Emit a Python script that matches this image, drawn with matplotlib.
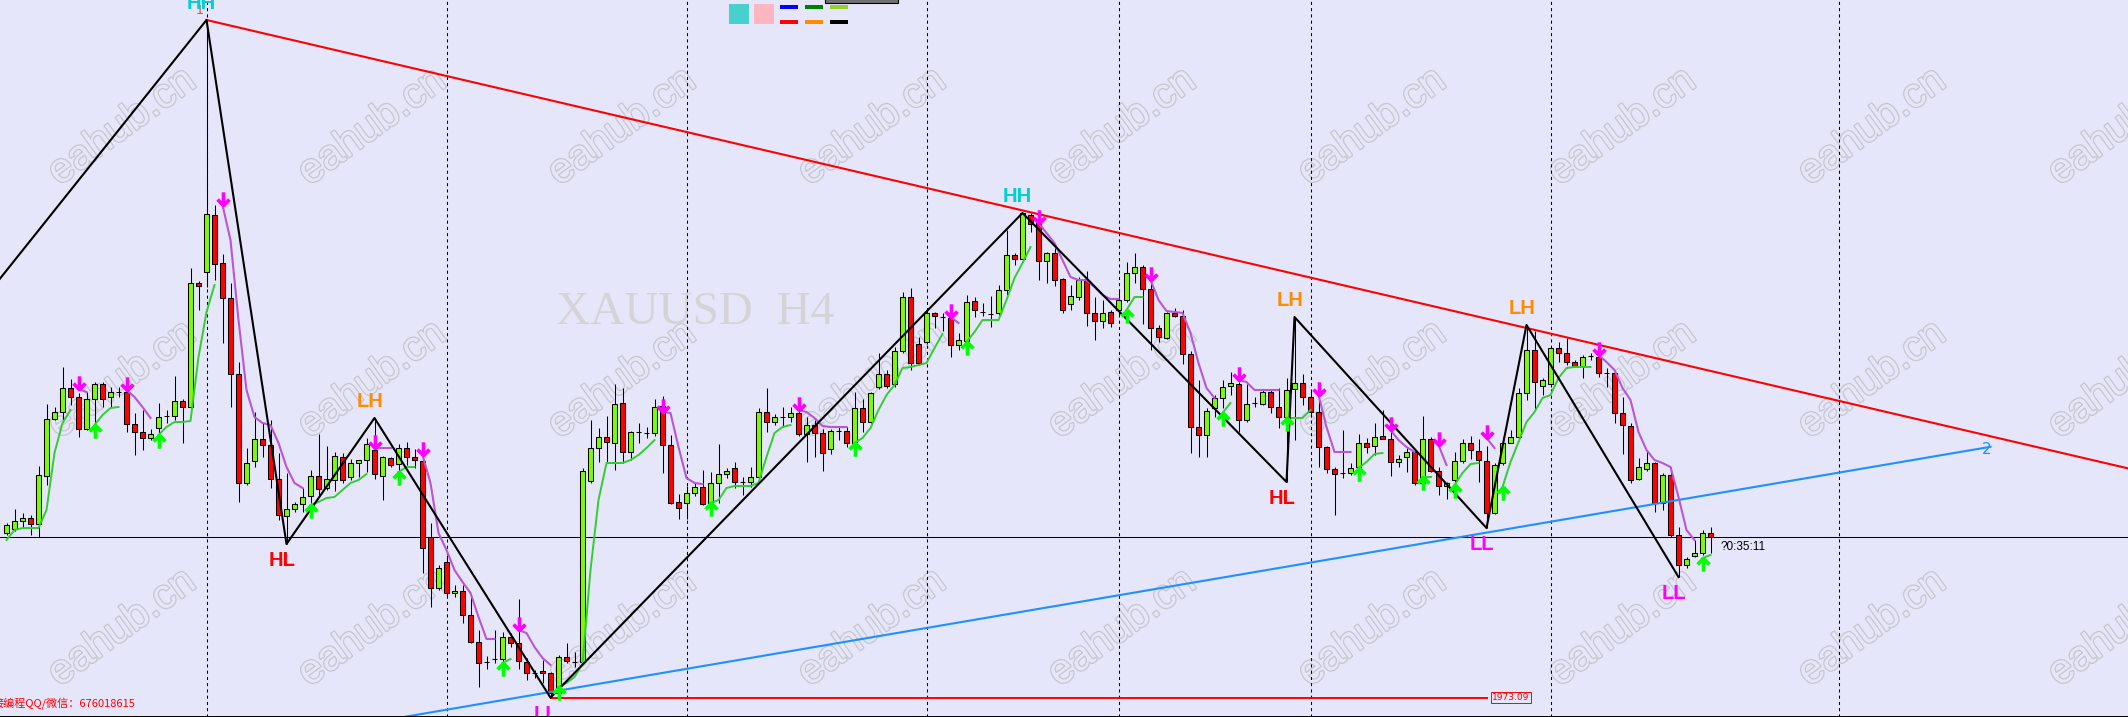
import numpy as np
import matplotlib
matplotlib.use('Agg')
import matplotlib.pyplot as plt
from matplotlib.path import Path
from matplotlib.patches import Rectangle
import matplotlib.patheffects as pe

# XAUUSD H4 candles (oldest first)
opens = [2014.25, 2015.25, 2017.25, 2018.0, 2016.5, 2028.5, 2042.75, 2044.5, 2050.5, 2048.25,
         2040.25, 2047.75, 2051.5, 2048.25, 2049.5, 2049.5, 2041.5, 2039.5, 2038.0, 2040.5,
         2043.5, 2043.5, 2047.25, 2045.75, 2076.75, 2079.5, 2093.75, 2081.75, 2073.0, 2054.0,
         2026.75, 2032.25, 2037.75, 2036.25, 2027.75, 2018.5, 2020.25, 2021.5, 2023.5, 2028.5,
         2025.5, 2027.5, 2033.25, 2028.25, 2031.75, 2032.5, 2035.0, 2028.5, 2033.0, 2031.5,
         2035.5, 2033.25, 2032.25, 2013.25, 2000.5, 2007.0, 1999.25, 1999.75, 1993.75, 1987.0,
         1982.0, 1982.75, 1982.75, 1988.25, 1986.75, 1982.0, 1979.25, 1979.75, 1979.25, 1974.25,
         1983.25, 1982.0, 1982.0, 2027.25, 2035.5, 2038.25, 2036.75, 2046.75, 2034.5, 2039.5,
         2039.25, 2039.25, 2046.0, 2036.25, 2022.0, 2021.75, 2024.25, 2025.75, 2021.75, 2026.75,
         2029.0, 2030.5, 2027.0, 2027.0, 2028.25, 2044.5, 2042.0, 2043.25, 2043.25, 2044.25,
         2039.0, 2041.25, 2039.25, 2035.25, 2039.75, 2039.75, 2036.75, 2045.5, 2042.0, 2050.75,
         2054.0, 2051.5, 2059.75, 2073.25, 2061.5, 2062.0, 2069.25, 2068.25, 2068.0, 2061.25,
         2062.25, 2072.25, 2069.5, 2069.0, 2069.25, 2075.0, 2083.75, 2082.75, 2093.75, 2092.0,
         2082.25, 2084.25, 2077.75, 2071.5, 2073.25, 2077.5, 2069.25, 2067.25, 2069.5, 2070.0,
         2072.5, 2079.25, 2080.75, 2075.25, 2065.5, 2063.0, 2069.25, 2068.5, 2059.0, 2040.75,
         2038.75, 2045.5, 2048.0, 2051.0, 2051.5, 2042.5, 2046.75, 2046.5, 2049.5, 2045.75,
         2043.25, 2050.25, 2051.75, 2048.25, 2044.5, 2035.75, 2030.25, 2029.25, 2029.25, 2030.75,
         2036.75, 2036.0, 2038.5, 2037.75, 2032.0, 2033.25, 2034.5, 2026.75, 2037.75, 2029.75,
         2026.0, 2027.5, 2032.25, 2036.75, 2034.75, 2032.25, 2019.25, 2031.75, 2036.75, 2038.25,
         2049.25, 2060.0, 2051.0, 2051.5, 2060.5, 2059.25, 2057.0, 2056.0, 2058.5, 2058.25,
         2054.25, 2054.25, 2044.25, 2041.0, 2027.75, 2030.25, 2031.75, 2021.75, 2028.75, 2013.75,
         2006.25, 2008.5, 2009.25, 2014.25]
highs = [2016.75, 2020.25, 2019.25, 2018.75, 2031.0, 2046.5, 2045.75, 2055.75, 2052.75, 2049.25,
         2049.5, 2052.0, 2052.0, 2050.75, 2050.75, 2050.25, 2044.25, 2045.0, 2040.25, 2046.75,
         2045.0, 2053.5, 2047.75, 2080.5, 2077.25, 2142.5, 2096.25, 2084.0, 2076.75, 2057.0,
         2035.5, 2044.5, 2041.75, 2042.5, 2034.25, 2029.25, 2022.0, 2025.5, 2030.0, 2039.0,
         2036.0, 2034.5, 2034.25, 2032.75, 2032.5, 2038.0, 2043.0, 2033.5, 2033.25, 2036.5,
         2037.0, 2035.25, 2034.25, 2016.75, 2006.25, 2008.75, 2001.25, 2001.25, 1998.25, 1990.0,
         1983.5, 1990.0, 1989.5, 1989.25, 1997.75, 1983.0, 1980.0, 1982.5, 1979.5, 1983.75,
         1986.75, 1984.5, 2030.5, 2042.5, 2040.5, 2043.5, 2051.5, 2050.5, 2039.75, 2041.75,
         2040.75, 2047.75, 2048.5, 2038.75, 2024.0, 2026.0, 2027.0, 2030.0, 2029.5, 2036.5,
         2030.5, 2032.0, 2028.25, 2030.75, 2045.5, 2050.5, 2044.0, 2045.75, 2045.75, 2046.75,
         2043.25, 2042.5, 2040.25, 2040.25, 2040.75, 2040.75, 2049.5, 2047.75, 2049.5, 2059.25,
         2055.0, 2060.75, 2074.5, 2075.5, 2063.25, 2070.0, 2069.5, 2069.25, 2069.25, 2064.25,
         2073.75, 2073.25, 2071.75, 2073.5, 2076.25, 2090.0, 2084.25, 2094.25, 2094.25, 2093.75,
         2084.5, 2085.5, 2078.0, 2076.25, 2078.25, 2079.75, 2073.25, 2072.5, 2070.0, 2075.25,
         2082.0, 2084.25, 2081.25, 2077.5, 2066.25, 2069.5, 2070.5, 2070.0, 2059.75, 2052.5,
         2045.5, 2048.75, 2052.5, 2054.5, 2052.0, 2051.5, 2048.25, 2050.0, 2050.0, 2050.5,
         2053.0, 2068.25, 2054.0, 2050.0, 2048.25, 2036.0, 2030.75, 2040.0, 2031.75, 2039.0,
         2038.0, 2041.75, 2045.0, 2043.0, 2033.75, 2035.5, 2035.0, 2043.5, 2038.25, 2030.75,
         2027.0, 2034.5, 2037.75, 2038.5, 2037.75, 2036.0, 2031.75, 2038.25, 2040.0, 2050.5,
         2066.25, 2064.75, 2053.0, 2060.75, 2062.0, 2063.0, 2057.5, 2058.75, 2059.25, 2060.25,
         2055.5, 2054.5, 2048.25, 2041.75, 2033.0, 2035.0, 2032.0, 2029.25, 2030.75, 2015.75,
         2008.25, 2012.5, 2015.0, 2015.75]
lows = [2013.75, 2014.75, 2015.75, 2013.75, 2013.25, 2026.25, 2042.5, 2042.5, 2046.25, 2038.25,
        2040.0, 2041.75, 2045.75, 2045.75, 2048.25, 2039.5, 2033.75, 2035.0, 2037.5, 2038.25,
        2041.75, 2042.5, 2036.75, 2045.5, 2070.0, 2075.75, 2077.5, 2061.75, 2045.75, 2022.0,
        2026.25, 2030.75, 2033.25, 2025.5, 2017.5, 2011.5, 2019.5, 2019.5, 2021.75, 2023.75,
        2025.0, 2024.75, 2026.75, 2027.5, 2028.25, 2029.5, 2027.75, 2022.5, 2030.75, 2029.0,
        2031.25, 2030.5, 2004.25, 1995.75, 2000.0, 1998.25, 1998.25, 1991.75, 1986.75, 1975.75,
        1980.25, 1981.75, 1980.0, 1985.75, 1980.25, 1977.5, 1978.0, 1976.75, 1973.09, 1973.75,
        1981.75, 1980.75, 1981.75, 2026.75, 2032.0, 2032.0, 2030.0, 2031.75, 2032.5, 2036.75,
        2038.0, 2038.5, 2029.25, 2021.5, 2017.75, 2017.75, 2023.5, 2021.25, 2020.0, 2021.75,
        2028.0, 2025.5, 2023.75, 2025.75, 2028.0, 2039.5, 2041.25, 2040.75, 2042.0, 2038.5,
        2032.0, 2033.25, 2029.75, 2034.0, 2037.5, 2035.75, 2034.5, 2039.5, 2041.75, 2050.25,
        2050.5, 2050.75, 2059.25, 2055.0, 2056.25, 2061.5, 2065.5, 2064.75, 2058.25, 2060.0,
        2059.5, 2068.25, 2068.5, 2065.75, 2068.75, 2073.75, 2081.25, 2082.0, 2089.5, 2077.5,
        2076.75, 2076.0, 2069.25, 2070.0, 2072.5, 2066.0, 2062.5, 2065.5, 2065.75, 2068.75,
        2072.0, 2076.75, 2066.5, 2060.0, 2062.0, 2062.75, 2068.25, 2056.5, 2034.25, 2033.25,
        2033.25, 2043.25, 2045.5, 2048.75, 2039.5, 2042.0, 2045.75, 2046.25, 2044.25, 2040.5,
        2027.0, 2037.5, 2046.25, 2043.25, 2030.75, 2029.25, 2018.75, 2028.0, 2028.75, 2030.0,
        2034.25, 2033.75, 2037.75, 2028.5, 2030.75, 2029.5, 2026.25, 2026.25, 2029.5, 2023.75,
        2022.75, 2025.75, 2031.75, 2032.75, 2027.0, 2015.5, 2019.0, 2031.25, 2036.75, 2037.5,
        2047.5, 2045.0, 2048.75, 2050.75, 2057.0, 2056.25, 2055.75, 2053.0, 2057.5, 2053.25,
        2050.75, 2041.75, 2034.0, 2026.75, 2027.5, 2029.75, 2019.5, 2020.0, 2013.25, 2003.25,
        2005.5, 2008.25, 2008.75, 2009.25]
closes = [2016.25, 2017.25, 2018.0, 2016.5, 2028.75, 2042.75, 2044.5, 2050.5, 2048.25, 2040.25,
          2047.75, 2051.5, 2047.75, 2049.5, 2049.5, 2041.5, 2039.5, 2038.0, 2039.0, 2043.25,
          2043.5, 2047.25, 2045.75, 2076.75, 2076.0, 2094.0, 2081.5, 2073.0, 2054.0, 2026.75,
          2031.75, 2037.75, 2036.25, 2027.75, 2018.75, 2020.25, 2021.5, 2023.25, 2028.5, 2025.25,
          2027.75, 2033.5, 2027.5, 2031.75, 2032.5, 2036.5, 2029.0, 2033.25, 2031.25, 2035.5,
          2033.25, 2032.5, 2010.5, 2000.5, 2005.5, 1999.25, 1999.75, 1993.75, 1987.0, 1981.75,
          1982.0, 1982.75, 1988.25, 1986.75, 1982.25, 1979.25, 1979.25, 1979.25, 1974.25, 1983.25,
          1982.25, 1982.0, 2029.75, 2035.5, 2038.25, 2037.0, 2046.5, 2034.5, 2039.5, 2039.5,
          2039.25, 2045.75, 2036.25, 2021.75, 2020.5, 2024.25, 2025.75, 2021.5, 2026.75, 2029.0,
          2029.75, 2027.0, 2027.0, 2028.25, 2044.5, 2042.0, 2043.25, 2043.25, 2044.25, 2039.0,
          2041.25, 2039.25, 2034.25, 2039.75, 2039.75, 2036.75, 2045.5, 2042.0, 2049.25, 2054.0,
          2051.0, 2059.75, 2073.25, 2056.75, 2056.75, 2069.25, 2068.5, 2068.25, 2061.25, 2062.5,
          2072.0, 2070.0, 2069.5, 2069.0, 2075.0, 2083.75, 2082.75, 2094.25, 2091.5, 2082.25,
          2084.25, 2077.5, 2070.0, 2073.5, 2077.5, 2069.25, 2067.25, 2069.25, 2066.75, 2072.5,
          2079.25, 2080.75, 2075.25, 2065.5, 2063.25, 2069.25, 2068.5, 2059.0, 2040.75, 2038.75,
          2044.75, 2048.0, 2050.75, 2051.75, 2042.5, 2046.5, 2046.75, 2049.5, 2045.75, 2043.25,
          2050.0, 2051.75, 2048.25, 2044.5, 2035.75, 2030.25, 2029.0, 2029.25, 2030.5, 2036.75,
          2035.75, 2038.25, 2037.75, 2032.0, 2032.75, 2034.5, 2026.75, 2037.75, 2029.75, 2026.0,
          2026.75, 2032.25, 2036.75, 2035.0, 2032.5, 2019.25, 2031.25, 2036.75, 2038.25, 2049.25,
          2060.0, 2052.0, 2052.5, 2060.5, 2059.25, 2057.0, 2056.0, 2058.25, 2058.5, 2054.25,
          2054.25, 2044.25, 2041.25, 2027.5, 2030.75, 2031.75, 2021.75, 2028.75, 2013.75, 2006.25,
          2007.75, 2009.25, 2014.25, 2013.25]

# trailing-stop style indicator: (first bar, values), green below price, purple above
green_segs = [
    (0, [2012.5, 2015.0, 2015.5, 2015.5, 2015.5, 2020.0, 2034.25, 2041.75, 2045.0]),
    (11, [2041.25, 2043.75, 2045.5, 2045.75]),
    (19, [2038.75, 2040.75, 2042.0, 2042.0, 2042.25, 2058.25, 2069.5, 2076.25]),
    (38, [2021.25, 2022.0, 2023.0, 2023.25, 2025.0, 2026.75, 2027.5, 2029.0]),
    (49, [2029.5, 2030.75, 2030.75]),
    (62, [1981.75, 1982.75]),
    (69, [1975.75, 1976.75, 1978.25, 1981.5, 2005.0, 2022.5, 2031.75, 2031.75, 2031.75,
          2032.5, 2033.75, 2035.5, 2037.5]),
    (88, [2021.75, 2022.5, 2025.5, 2026.0, 2026.0, 2026.0, 2026.75, 2033.25, 2039.25,
          2040.75, 2041.25]),
    (106, [2036.75, 2038.0, 2040.5, 2045.0, 2048.75, 2051.25, 2055.5, 2055.75, 2056.25,
           2056.75, 2060.5, 2064.0]),
    (120, [2062.0, 2064.5, 2067.5, 2067.5, 2067.5, 2072.5, 2078.0, 2081.75, 2085.75]),
    (140, [2070.0, 2073.25, 2073.25]),
    (152, [2044.25, 2046.75]),
    (160, [2043.0, 2043.0, 2043.0, 2045.0]),
    (169, [2030.5, 2032.0, 2034.0, 2034.25]),
    (177, [2028.25, 2028.25]),
    (181, [2026.25, 2029.25, 2031.5, 2031.75]),
    (187, [2025.75, 2032.0, 2037.0, 2042.0, 2044.5, 2048.0, 2048.75, 2053.0, 2055.5,
           2055.75, 2055.75, 2055.75]),
    (212, [2008.0, 2008.75]),
]
purple_segs = [
    (9, [2050.25, 2049.5]),
    (15, [2050.0, 2048.25, 2045.75, 2043.0]),
    (27, [2096.25, 2087.5, 2067.5, 2050.0, 2043.25, 2041.75, 2041.25, 2036.75, 2030.75,
          2026.75, 2025.5]),
    (46, [2035.5, 2035.5, 2035.5]),
    (52, [2033.75, 2026.75, 2014.25, 2010.0, 2005.0, 2002.0, 1999.25, 1993.25, 1987.75,
          1987.75]),
    (64, [1990.0, 1989.25, 1985.75, 1983.0, 1981.25]),
    (82, [2044.5, 2044.25, 2035.75, 2028.0, 2026.75, 2026.5]),
    (99, [2045.0, 2044.5, 2043.0, 2041.0, 2040.75, 2040.75, 2040.75]),
    (118, [2068.25, 2066.75]),
    (129, [2091.75, 2089.25, 2086.75, 2082.5, 2078.25, 2077.5, 2077.5, 2075.75, 2073.75,
           2072.75, 2072.75]),
    (143, [2077.5, 2072.5, 2069.75, 2069.5, 2069.25, 2064.25, 2056.75, 2050.5, 2048.0]),
    (154, [2052.5, 2052.0, 2050.0, 2050.0, 2050.0, 2050.0]),
    (164, [2048.75, 2040.75, 2034.5, 2034.5, 2034.5]),
    (173, [2040.0, 2037.5, 2035.75, 2034.5]),
    (179, [2036.25, 2031.25]),
    (185, [2038.0, 2035.5]),
    (199, [2058.75, 2057.0, 2055.0, 2050.5, 2047.5, 2039.5, 2035.0, 2032.5, 2031.75,
           2030.75, 2023.25, 2015.0, 2012.5]),
]

# zigzag swing points
zz_bars = [-26, 25, 35, 46, 68, 127, 160, 161, 185, 190, 209]
zz_prices = [2014.75, 2142.5, 2011.5, 2043.0, 1973.09, 2094.25, 2027.0, 2068.25, 2015.5,
             2066.25, 2003.25]
zz_labels = ['', 'HH', 'HL', 'LH', 'LL', 'HH', 'HL', 'LH', 'LL', 'LH', 'LL']
label_colors = {'HH': '#00CED1', 'LH': '#FF8C00', 'HL': '#FF0000', 'LL': '#FF00FF'}

# trend lines (bar, price)
res_line = [(25, 2142.5), (190, 2065.5)]
sup_line = [(68, 1974.5), (248, 2035.8)]
low_level = 1973.09
low_level_end = 185
grid_bars = [25, 55, 85, 115, 139, 163, 193, 229]

BG = '#E6E6FA'
W, H = 2128, 717
fig = plt.figure(figsize=(W / 100, H / 100), dpi=100, facecolor=BG)
ax = fig.add_axes([0, 0, 1, 1], facecolor=BG)
ax.set_xlim(-6.5 / 8, (W - 6.5) / 8)
ax.set_ylim(2147.5 - H / 4, 2147.5)
ax.axis('off')

# watermarks
for row_y in [127, 380, 628]:
    for k in range(9):
        ax.text((122 + 250 * k) / W, 1 - row_y / H, 'eahub.cn', transform=ax.transAxes,
                rotation=36, ha='center', va='center', fontsize=30,
                family='Liberation Sans', color=BG, zorder=0,
                path_effects=[pe.withStroke(linewidth=1.8, foreground='#c6c6cf')])
ax.text(695 / W, 1 - 313 / H, 'XAUUSD  H4', transform=ax.transAxes, ha='center', va='center',
        fontsize=34, family='Liberation Serif', color='#d4d4d8', zorder=0.5)

# grid and price line
for gb in grid_bars:
    ax.axvline(gb, color='black', lw=0.75, ls=(0, (3, 3)), zorder=1)
o = np.array(opens); hi = np.array(highs); lo = np.array(lows); c = np.array(closes)
x = np.arange(len(o))
ax.axhline(c[-1], color='black', lw=0.75, zorder=1)

# candles
ax.vlines(x, lo, hi, color='black', lw=0.75, zorder=3)
up = c > o
dn = c < o
eq = c == o
ax.bar(x[up], (c - o)[up], bottom=o[up], width=0.62, color='#7CFC00', edgecolor='black',
       lw=0.75, zorder=4)
ax.bar(x[dn], (o - c)[dn], bottom=c[dn], width=0.62, color='#FF0000', edgecolor='black',
       lw=0.75, zorder=4)
ax.hlines(o[eq], x[eq] - 0.31, x[eq] + 0.31, color='black', lw=0.75, zorder=4)

# support level from the low
ax.plot([zz_bars[4], low_level_end], [low_level, low_level], color='#FF0000', lw=1.4, zorder=5)
ax.annotate('1973.09', (low_level_end, low_level), xytext=(4, 0), textcoords='offset points',
            ha='left', va='center', fontsize=6.5, color='#FF0000', family='DejaVu Sans',
            bbox=dict(boxstyle='square,pad=0.15', fc=BG, ec='#FF0000', lw=0.7), zorder=6)

# trend lines
slope = (res_line[1][1] - res_line[0][1]) / (res_line[1][0] - res_line[0][0])
rx = np.array([res_line[0][0], 270])
ax.plot(rx, res_line[0][1] + slope * (rx - res_line[0][0]), color='#FF0000', lw=1.5, zorder=5)
ax.annotate('1', res_line[0], xytext=(-2, 2), textcoords='offset points', ha='right',
            va='bottom', fontsize=9, color='#FF4040', zorder=6)
slope2 = (sup_line[1][1] - sup_line[0][1]) / (sup_line[1][0] - sup_line[0][0])
bx = np.array([40, sup_line[1][0]])
ax.plot(bx, sup_line[0][1] + slope2 * (bx - sup_line[0][0]), color='#1E90FF', lw=1.5, zorder=5)
ax.annotate('2', sup_line[1], xytext=(-6, -2), textcoords='offset points', ha='left',
            va='center', fontsize=11, color='#1E90FF', zorder=6)

# indicator lines and arrows
down_arrow = Path([(0, 1), (0, 0), (-0.45, 0.45), (0, 0), (0.45, 0.45)],
                  [Path.MOVETO, Path.LINETO, Path.MOVETO, Path.LINETO, Path.LINETO])
up_arrow = Path([(0, -1), (0, 0), (-0.45, -0.45), (0, 0), (0.45, -0.45)],
                [Path.MOVETO, Path.LINETO, Path.MOVETO, Path.LINETO, Path.LINETO])
for start, vals in green_segs:
    bars = np.arange(start, start + len(vals))
    ax.plot(bars, vals, color='#32CD32', lw=1.4, zorder=6)
    if start > 0:
        ax.plot(start, vals[0], marker=up_arrow, ms=19, mfc='none', mec='#00FF00', mew=2.6,
                zorder=7)
for start, vals in purple_segs:
    bars = np.arange(start, start + len(vals))
    ax.plot(bars, vals, color='#BA55D3', lw=1.5, zorder=6)
    ax.plot(start, vals[0], marker=down_arrow, ms=19, mfc='none', mec='#FF00FF', mew=2.6,
            zorder=7)

# zigzag with swing labels
ax.plot(zz_bars, zz_prices, color='black', lw=1.5, zorder=6)
for b, p, lab in zip(zz_bars, zz_prices, zz_labels):
    if not lab:
        continue
    top = lab in ('HH', 'LH')
    ax.annotate(lab, (b, p), xytext=(-3.5, 5 if top else -5), textcoords='offset points',
                ha='center', va='bottom' if top else 'top', fontsize=14.5, fontweight='bold',
                family='Liberation Sans', color=label_colors[lab], zorder=8)

# bar countdown next to the last candle
ax.annotate('?0:35:11', (x[-1], c[-1]), xytext=(7.5, -3), textcoords='offset points',
            ha='left', va='top', fontsize=8.5, family='Liberation Sans', color='black', zorder=8)

# contact text bottom-left
ax.text(-7 / W, 1 - 703 / H, '接编程QQ/微信：676018615', transform=ax.transAxes, ha='left',
        va='center', fontsize=8, color='#FF0000', family=['Noto Sans CJK SC', 'DejaVu Sans'],
        zorder=8)

# small legend swatches at the top
fig.patches.append(Rectangle((729, H - 24), 20, 20, transform=None, fc='#48D1CC', ec='none'))
fig.patches.append(Rectangle((754, H - 24), 20, 20, transform=None, fc='#FFB6C1', ec='none'))
sw_colors = [['#0000FF', '#008000', '#9ACD32'], ['#FF0000', '#FF8C00', '#000000']]
for r, row in enumerate(sw_colors):
    for k, col in enumerate(row):
        fig.patches.append(Rectangle((780 + 25 * k, H - 9 - 15 * r), 18, 4, transform=None,
                                     fc=col, ec='none'))
fig.patches.append(Rectangle((825, H - 3), 73, 5, transform=None, fc='#707070', ec='black',
                             lw=0.8))
fig.patches.append(Rectangle((0, 0), W, 1.2, transform=None, fc='black', ec='none'))

fig.savefig('out.png', dpi=100, facecolor=BG)
